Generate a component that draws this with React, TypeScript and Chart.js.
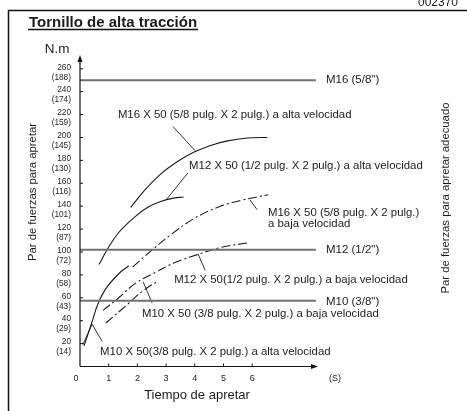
import { useEffect, useRef } from "react";
import { Chart, registerables } from "chart.js";

Chart.register(...registerables);

// ---- Axis ticks ----
const yTickValues = [20, 40, 60, 80, 100, 120, 140, 160, 180, 200, 220, 240, 260];
const yTickLabels = ["20", "40", "60", "80", "100", "120", "140", "160", "180", "200", "220", "240", "260"];
const yTickAltLabels = ["(14)", "(29)", "(43)", "(58)", "(72)", "(87)", "(101)", "(116)", "(130)", "(145)", "(159)", "(174)", "(188)"];
const xTickValues = [0, 1, 2, 3, 4, 5, 6];
const xTickLabels = ["0", "1", "2", "3", "4", "5", "6"];

// ---- Reference torque lines ----
const refNames = ['M16 (5/8")', 'M12 (1/2")', 'M10 (3/8")'];
const refValues = [250, 102, 57.5];
const refEndX = 8.22;

// ---- Curves (time s, torque N.m) ----
const m16AltaX = [1.77, 2.22, 2.81, 3.4, 3.96, 4.55, 5.14, 5.83, 6.53];
const m16AltaY = [139, 153, 168, 179, 187, 193, 197, 199.5, 200];

const m12AltaX = [0.66, 0.97, 1.35, 1.88, 2.36, 2.81, 3.26, 3.61];
const m12AltaY = [89, 103, 117, 130, 139, 144, 147, 148];

const m16BajaX = [1.84, 2.57, 3.16, 3.96, 4.8, 5.6, 6.56];
const m16BajaY = [87, 103, 115, 129, 139, 145, 150];

const m12BajaX = [0.8, 1.35, 1.95, 2.7, 3.33, 4.13, 4.9, 5.87];
const m12BajaY = [49, 60, 73, 83, 91, 98, 104, 108];

const m10BajaX = [0.9, 1.6, 2.19, 2.74];
const m10BajaY = [38, 53, 66, 75];

const m10AltaX = [0.14, 0.38, 0.63, 0.9, 1.35, 1.7];
const m10AltaY = [18, 36, 55, 68, 81, 88];

// ---- Leader lines (pairs of points) ----
const leaderX = [
  [3.24, 4.01],
  [3.76, 3.0],
  [5.92, 6.17],
  [4.11, 4.36],
  [2.2, 2.51],
  [0.1, 0.42, 0.77],
];
const leaderY = [
  [209.5, 188.5],
  [169, 145.5],
  [145.5, 137],
  [98.5, 84],
  [74, 55.5],
  [19, 37, 22],
];

// ---- Curve labels (anchor in data coords, left aligned) ----
const curveLabelText = [
  ["M16 X 50 (5/8 pulg. X 2 pulg.) a alta velocidad"],
  ["M12 X 50 (1/2 pulg. X 2 pulg.) a alta velocidad"],
  ["M16 X 50 (5/8 pulg. X 2 pulg.)", "a baja velocidad"],
  ["M12 X 50(1/2 pulg. X 2 pulg.) a baja velocidad"],
  ["M10 X 50 (3/8 pulg. X 2 pulg.) a baja velocidad"],
  ["M10 X 50(3/8 pulg. X 2 pulg.) a alta velocidad"],
];
const curveLabelX = [1.32, 3.8, 6.55, 3.28, 2.16, 0.7];
const curveLabelY = [219.8, 175.3, 134.2, 75.6, 45.9, 12.7];

const FONT = '"Liberation Sans", Arial, Helvetica, sans-serif';
const INK = "#1c1c1c";

function pts(xs: number[], ys: number[]) {
  return xs.map((x, i) => ({ x, y: ys[i] }));
}

const decorPlugin = {
  id: "decor",
  afterDraw(chart: any) {
    const { ctx } = chart;
    const xs = chart.scales.x;
    const ys = chart.scales.y;
    const area = chart.chartArea;
    const px = (v: number) => xs.getPixelForValue(v);
    const py = (v: number) => ys.getPixelForValue(v);
    ctx.save();

    // frame
    ctx.strokeStyle = "#111";
    ctx.lineWidth = 1.5;
    ctx.beginPath();
    ctx.moveTo(8.5, 411);
    ctx.lineTo(8.5, 10.5);
    ctx.lineTo(467, 10.5);
    ctx.stroke();

    // clipped code at top right
    ctx.fillStyle = INK;
    ctx.font = `12px ${FONT}`;
    ctx.textBaseline = "alphabetic";
    ctx.textAlign = "left";
    ctx.fillText("002370", 418, 5.5);

    // title
    ctx.font = `bold 15px ${FONT}`;
    ctx.textBaseline = "middle";
    ctx.fillText("Tornillo de alta tracción", 29, 23);
    const tw = ctx.measureText("Tornillo de alta tracción").width;
    ctx.lineWidth = 1.3;
    ctx.beginPath();
    ctx.moveTo(28, 29.5);
    ctx.lineTo(29 + tw + 1, 29.5);
    ctx.stroke();

    // axes
    const x0 = area.left;
    const y0 = area.bottom;
    ctx.strokeStyle = "#111";
    ctx.lineWidth = 1.2;
    ctx.beginPath();
    ctx.moveTo(x0, y0);
    ctx.lineTo(x0, area.top + 5);
    ctx.moveTo(x0, y0);
    ctx.lineTo(area.right - 5, y0);
    ctx.stroke();
    ctx.fillStyle = "#111";
    ctx.beginPath();
    ctx.moveTo(x0, area.top);
    ctx.lineTo(x0 - 2.5, area.top + 7);
    ctx.lineTo(x0 + 2.5, area.top + 7);
    ctx.closePath();
    ctx.fill();
    ctx.beginPath();
    ctx.moveTo(area.right, y0);
    ctx.lineTo(area.right - 7, y0 - 2.5);
    ctx.lineTo(area.right - 7, y0 + 2.5);
    ctx.closePath();
    ctx.fill();

    // y ticks
    ctx.lineWidth = 1;
    ctx.font = `8.3px ${FONT}`;
    ctx.textAlign = "right";
    ctx.fillStyle = INK;
    yTickValues.forEach((v, i) => {
      const y = py(v);
      ctx.beginPath();
      ctx.moveTo(x0, y);
      ctx.lineTo(x0 + 3, y);
      ctx.stroke();
      ctx.fillText(yTickLabels[i], 71, y - 1.5);
      ctx.fillText(yTickAltLabels[i], 71, y + 8.5);
    });

    // x ticks
    ctx.font = `9px ${FONT}`;
    ctx.textAlign = "center";
    xTickValues.forEach((v, i) => {
      const x = px(v);
      if (v !== 0) {
        ctx.beginPath();
        ctx.moveTo(x, y0);
        ctx.lineTo(x, y0 - 3);
        ctx.stroke();
      }
      ctx.fillText(xTickLabels[i], v === 0 ? x - 4 : x, 378.5);
    });
    ctx.fillText("(S)", 335, 378.5);

    // axis titles
    ctx.font = `13.5px ${FONT}`;
    ctx.textAlign = "center";
    ctx.fillText("N.m", 57, 49);
    ctx.font = `13px ${FONT}`;
    ctx.fillText("Tiempo de apretar", 197, 395);

    ctx.font = `11.3px ${FONT}`;
    ctx.save();
    ctx.translate(33, 192);
    ctx.rotate(-Math.PI / 2);
    ctx.fillText("Par de fuerzas para apretar", 0, 0);
    ctx.restore();
    ctx.save();
    ctx.translate(446, 198);
    ctx.rotate(-Math.PI / 2);
    ctx.fillText("Par de fuerzas para apretar adecuado", 0, 0);
    ctx.restore();

    // ref line labels
    ctx.font = `11.5px ${FONT}`;
    ctx.textAlign = "left";
    refNames.forEach((n, i) => {
      ctx.fillText(n, px(refEndX) + 10, py(refValues[i]) + (i === 2 ? 1.5 : 0));
    });

    // curve labels
    ctx.font = `11.4px ${FONT}`;
    curveLabelText.forEach((lines, i) => {
      lines.forEach((t, j) => {
        ctx.fillText(t, px(curveLabelX[i]), py(curveLabelY[i]) + j * 11);
      });
    });

    ctx.restore();
  },
};

export default function App() {
  const ref = useRef<HTMLCanvasElement | null>(null);
  useEffect(() => {
    if (!ref.current) return;
    const curve = (xs: number[], ys: number[], dashed: boolean) => ({
      data: pts(xs, ys),
      borderColor: "#1a1a1a",
      borderWidth: 1.1,
      borderDash: dashed ? [9, 3, 2, 3] : [],
      pointRadius: 0,
      fill: false,
      tension: 0.4,
    });
    const datasets: any[] = [];
    refValues.forEach((v) => {
      datasets.push({
        data: [
          { x: 0, y: v },
          { x: refEndX, y: v },
        ],
        borderColor: "#707070",
        borderWidth: 2,
        pointRadius: 0,
        fill: false,
      });
    });
    datasets.push(curve(m16AltaX, m16AltaY, false));
    datasets.push(curve(m12AltaX, m12AltaY, false));
    datasets.push(curve(m10AltaX, m10AltaY, false));
    datasets.push(curve(m16BajaX, m16BajaY, true));
    datasets.push(curve(m12BajaX, m12BajaY, true));
    datasets.push(curve(m10BajaX, m10BajaY, true));
    leaderX.forEach((lx, i) => {
      datasets.push({
        data: pts(lx, leaderY[i]),
        borderColor: "#1a1a1a",
        borderWidth: 0.9,
        pointRadius: 0,
        fill: false,
        tension: 0,
      });
    });

    const chart = new Chart(ref.current, {
      type: "line",
      data: { datasets },
      options: {
        animation: false,
        responsive: false,
        devicePixelRatio: 1,
        layout: { padding: { left: 80, right: 149, top: 55, bottom: 44.5 } },
        plugins: { legend: { display: false }, tooltip: { enabled: false } },
        scales: {
          x: { type: "linear", min: 0, max: 238 / 28.7, display: false },
          y: { type: "linear", min: 0, max: 272, display: false },
        },
      },
      plugins: [decorPlugin],
    });
    return () => chart.destroy();
  }, []);

  return (
    <div style={{ position: "absolute", left: 0, top: 0, width: 467, height: 411, background: "#fff" }}>
      <canvas ref={ref} width={467} height={411} style={{ width: 467, height: 411 }} />
    </div>
  );
}
